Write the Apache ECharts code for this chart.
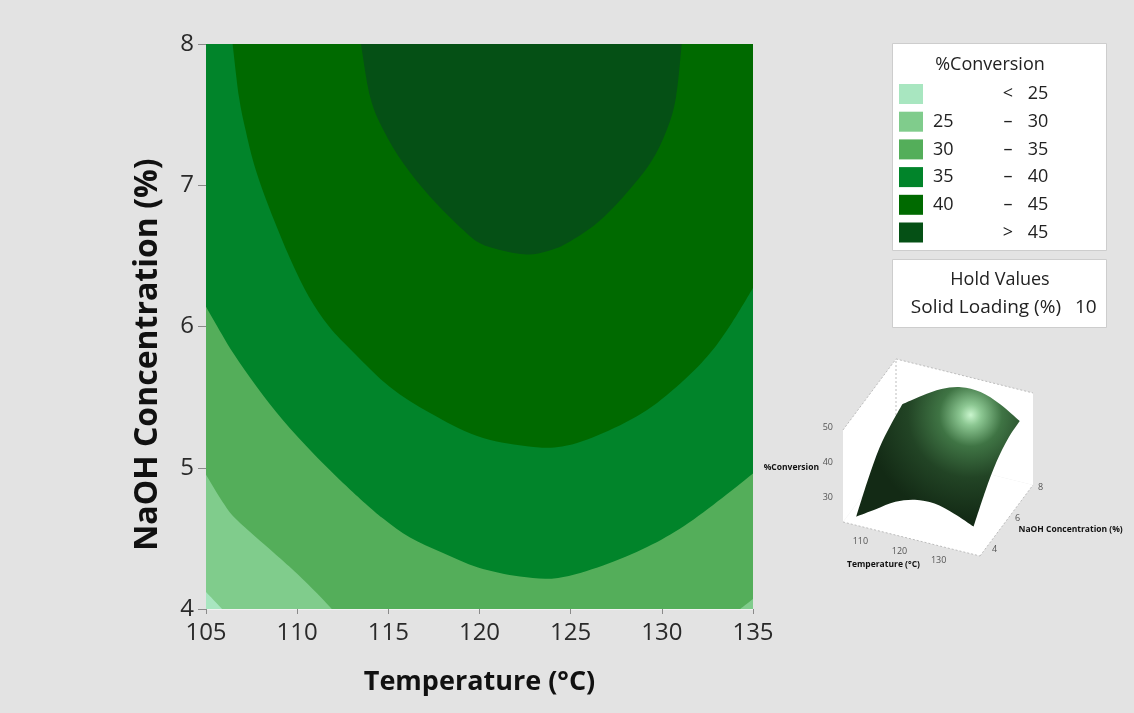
<!DOCTYPE html>
<html>
<head>
<meta charset="utf-8">
<script src="https://cdn.jsdelivr.net/npm/echarts@6/dist/echarts.min.js"></script>
<style>
  html, body { margin: 0; padding: 0; background: #e3e3e3; }
  #chart { width: 1134px; height: 713px; }
</style>
</head>
<body>
<div id="chart"></div>
<script>
// ---- %Conversion bands ----
const bandNames = ['< 25', '25 – 30', '30 – 35', '35 – 40', '40 – 45', '> 45'];
const bandColors = ['#a8e6c0', '#80cc8c', '#54ae5a', '#01842a', '#006a00', '#055015'];

// ---- contour lines, as [Temperature (°C), NaOH Concentration (%)] ----
const contour25 = [[105, 4.12], [105.88, 4.0]];
const contour30Left = [[105, 4.95], [105.95, 4.75], [106.7, 4.63], [108.7, 4.40], [110.0, 4.25], [111.1, 4.11], [111.9, 4.0]];
const contour30Right = [[134.3, 4.0], [135, 4.07]];
const contour35 = [[105, 6.14], [105.4, 6.05], [106.5, 5.81], [107.8, 5.57], [109.2, 5.34], [110.9, 5.10], [112.7, 4.87],
  [113.89, 4.729], [114.82, 4.63], [116.19, 4.506], [118.0, 4.396], [119.92, 4.294], [122.22, 4.23], [124.31, 4.22],
  [126.78, 4.308], [129.19, 4.439], [131.22, 4.588], [133.31, 4.786], [135, 4.959]];
const contour40 = [[106.46, 8], [106.81, 7.625], [107.17, 7.391], [107.63, 7.15], [108.24, 6.917], [108.95, 6.683],
  [109.72, 6.45], [110.65, 6.209], [111.75, 6.0], [113.12, 5.813], [115.09, 5.572], [117.29, 5.388], [119.87, 5.225],
  [122.5, 5.154], [124.53, 5.15], [126.78, 5.246], [129.19, 5.409], [131.22, 5.621], [132.65, 5.812], [133.8, 6.018], [135, 6.273]];
const contour45 = [[113.5, 8], [114.0, 7.627], [114.73, 7.391], [115.82, 7.155], [117.29, 6.919], [119.11, 6.683],
  [120.03, 6.589], [121.13, 6.542], [122.61, 6.51], [123.76, 6.535], [124.79, 6.589], [126.43, 6.731], [127.89, 6.919],
  [129.36, 7.155], [130.27, 7.391], [130.78, 7.627], [131.09, 8]];

// ---- axes ----
const tempTicks = [105, 110, 115, 120, 125, 130, 135];
const naohTicks = [4, 5, 6, 7, 8];

// ---- hold value ----
const holdName = 'Solid Loading (%)';
const holdValue = 10;

// ---- surface-plot inset: %Conversion on a Temperature x NaOH grid ----
const insetTemps = [105, 110, 115, 120, 125, 130, 135];
const insetNaOH = [4, 5, 6, 7, 8];
const insetConversion = [
  [24.0, 27.5, 31.0, 33.0, 33.3, 31.8, 29.5],   // NaOH 4
  [30.0, 33.2, 36.3, 38.4, 38.4, 36.5, 35.1],   // NaOH 5
  [34.7, 38.5, 41.5, 43.0, 43.0, 41.5, 39.3],   // NaOH 6
  [37.0, 41.0, 44.0, 46.0, 46.0, 44.0, 41.5],   // NaOH 7
  [38.5, 42.3, 45.6, 47.5, 47.5, 45.4, 42.0]    // NaOH 8
];
const insetTempTicks = [110, 120, 130];
const insetNaOHTicks = [4, 6, 8];
const insetConvTicks = [30, 40, 50];

// Filled regions: each band paints everything at or above its lower level
const regions = [
  [{ line: [[105, 4], [135, 4], [135, 8], [105, 8]] }],
  [{ curve: contour25 }, { line: [[135, 4], [135, 8], [105, 8]] }],
  [{ line: [[105, 8]] }, { curve: contour30Left }, { curve: contour30Right }, { line: [[135, 8]] }],
  [{ line: [[105, 8]] }, { curve: contour35 }, { line: [[135, 8]] }],
  [{ curve: contour40 }, { line: [[135, 8]] }],
  [{ curve: contour45 }]
];

// Smooth cubic segments through pixel points (Catmull-Rom form)
function bezierThrough(pts) {
  let d = '';
  for (let i = 0; i < pts.length - 1; i++) {
    const p0 = pts[Math.max(i - 1, 0)], p1 = pts[i], p2 = pts[i + 1], p3 = pts[Math.min(i + 2, pts.length - 1)];
    const c1 = [p1[0] + (p2[0] - p0[0]) / 6, p1[1] + (p2[1] - p0[1]) / 6];
    const c2 = [p2[0] - (p3[0] - p1[0]) / 6, p2[1] - (p3[1] - p1[1]) / 6];
    d += ` C${c1[0]} ${c1[1]} ${c2[0]} ${c2[1]} ${p2[0]} ${p2[1]}`;
  }
  return d;
}

function piecesPath(pieces, toPx) {
  let d = '';
  pieces.forEach(p => {
    const pts = (p.curve || p.line).map(toPx);
    pts.forEach((q, i) => {
      if (d === '') d = `M${q[0]} ${q[1]}`;
      else if (p.line || i === 0) d += ` L${q[0]} ${q[1]}`;
    });
    if (p.curve) d += bezierThrough(pts);
  });
  return d + ' Z';
}

const FONT = '"Open Sans", "Noto Sans", sans-serif';

const bandSeries = bandNames.map((name, i) => ({
  type: 'custom',
  name: name,
  coordinateSystem: 'cartesian2d',
  clip: true,
  silent: true,
  z: 2 + i,
  itemStyle: { color: bandColors[i] },
  encode: { x: 0, y: 1 },
  data: regions[i].flatMap(p => p.curve || p.line),
  renderItem: (params, api) => {
    if (params.dataIndex !== 0) return null;
    return {
      type: 'path',
      shape: { pathData: piecesPath(regions[i], p => api.coord(p)) },
      style: { fill: bandColors[i], stroke: null }
    };
  }
}));

// ---- inset: oblique projection of the response surface ----
const box = { t: [102.5, 137.5], n: [3.7, 8.3], z: [23.1, 49.4] };
const boxOrigin = [843, 522];
const perT = [137 / 35, 34 / 35];
const perN = [53 / 4.6, -71 / 4.6];
const perZ = 3.5;
function proj(t, n, z) {
  const dt = t - box.t[0], dn = n - box.n[0], dz = z - box.z[0];
  return [boxOrigin[0] + dt * perT[0] + dn * perN[0], boxOrigin[1] + dt * perT[1] + dn * perN[1] - dz * perZ];
}

function insetRender(params, api) {
  if (params.dataIndex !== 0) return null;
  const [t0, t1] = box.t, [n0, n1] = box.n, [z0, z1] = box.z;
  const children = [];
  const wall = pts => ({ type: 'polygon', shape: { points: pts }, style: { fill: '#ffffff', stroke: null } });
  children.push(wall([proj(t0, n0, z0), proj(t0, n1, z0), proj(t0, n1, z1), proj(t0, n0, z1)]));
  children.push(wall([proj(t0, n1, z0), proj(t1, n1, z0), proj(t1, n1, z1), proj(t0, n1, z1)]));
  children.push(wall([proj(t0, n0, z0), proj(t1, n0, z0), proj(t1, n1, z0), proj(t0, n1, z0)]));
  // dotted box edges
  const edges = [
    [proj(t0, n0, z1), proj(t0, n1, z1)], [proj(t0, n1, z1), proj(t1, n1, z1)],
    [proj(t0, n0, z0), proj(t1, n0, z0)], [proj(t1, n0, z0), proj(t1, n1, z0)],
    [proj(t0, n1, z0), proj(t0, n1, z1)]
  ];
  edges.forEach(e => children.push({
    type: 'line', shape: { x1: e[0][0], y1: e[0][1], x2: e[1][0], y2: e[1][1] },
    style: { stroke: '#bdbdbd', lineWidth: 1, lineDash: [2, 2] }
  }));
  // surface outline: front edge, right edge, back edge, left edge
  const last = insetTemps.length - 1, lastN = insetNaOH.length - 1;
  const front = insetTemps.map((t, j) => [t, insetNaOH[0], insetConversion[0][j]]);
  const right = insetNaOH.map((n, k) => [insetTemps[last], n, insetConversion[k][last]]);
  const back = insetTemps.map((t, j) => [t, insetNaOH[lastN], insetConversion[lastN][j]]).reverse();
  const left = insetNaOH.map((n, k) => [insetTemps[0], n, insetConversion[k][0]]).reverse();
  const toPx = p => proj(p[0], p[1], p[2]);
  const d = piecesPath([{ curve: front }, { curve: right }, { curve: back }, { curve: left }], toPx);
  children.push({
    type: 'path',
    shape: { pathData: d },
    style: {
      fill: new echarts.graphic.RadialGradient(0.7, 0.2, 0.75, [
        { offset: 0, color: '#c9f5cd' },
        { offset: 0.1, color: '#8cc792' },
        { offset: 0.3, color: '#3f7444' },
        { offset: 0.6, color: '#224425' },
        { offset: 1, color: '#132a15' }
      ]),
      stroke: null
    }
  });
  // tick labels
  const small = '9px ' + FONT;
  insetConvTicks.forEach(v => {
    const p = proj(t0, n0, v);
    children.push({ type: 'text', style: { text: String(v), x: p[0] - 10, y: p[1], align: 'right', verticalAlign: 'middle', font: small, fill: '#555' } });
  });
  insetTempTicks.forEach(v => {
    const p = proj(v, n0, z0);
    children.push({ type: 'text', style: { text: String(v), x: p[0] - 12, y: p[1] + 12, align: 'center', verticalAlign: 'middle', font: small, fill: '#555' } });
  });
  insetNaOHTicks.forEach(v => {
    const p = proj(t1, v, z0);
    children.push({ type: 'text', style: { text: String(v), x: p[0] + 11, y: p[1] - 2, align: 'center', verticalAlign: 'middle', font: small, fill: '#555' } });
  });
  const bold = 'bold 8.5px ' + FONT;
  const zl = proj(t0, n0, 40);
  children.push({ type: 'text', style: { text: '%Conversion', x: zl[0] - 24, y: zl[1] + 5, align: 'right', verticalAlign: 'middle', font: bold, fill: '#111' } });
  const tl = proj((t0 + t1) / 2, n0, z0);
  children.push({ type: 'text', style: { text: 'Temperature (°C)', x: tl[0] - 28, y: tl[1] + 26, align: 'center', verticalAlign: 'middle', font: bold, fill: '#111' } });
  const nl = proj(t1, (n0 + n1) / 2, z0);
  children.push({ type: 'text', style: { text: 'NaOH Concentration (%)', x: nl[0] + 12, y: nl[1] + 9, align: 'left', verticalAlign: 'middle', font: bold, fill: '#111' } });
  return { type: 'group', children: children };
}

const legendParts = {
  '< 25': ['', '<', '25'], '25 – 30': ['25', '–', '30'], '30 – 35': ['30', '–', '35'],
  '35 – 40': ['35', '–', '40'], '40 – 45': ['40', '–', '45'], '> 45': ['', '>', '45']
};

const LEG = 18;
const option = {
  backgroundColor: '#e3e3e3',
  animation: false,
  textStyle: { fontFamily: FONT },
  grid: { left: 206, top: 44, width: 547, height: 565 },
  xAxis: {
    type: 'value', min: 105, max: 135, interval: 5,
    name: 'Temperature (°C)', nameLocation: 'middle', nameGap: 60,
    nameTextStyle: { fontFamily: FONT, fontWeight: 'bold', fontSize: 27, color: '#111' },
    axisLine: { show: true, lineStyle: { color: 'rgba(255,255,255,0.55)', width: 1 } },
    axisTick: { show: true, length: 5, lineStyle: { color: '#8a8a8a' } },
    axisLabel: { fontSize: 24, color: '#2a2a2a', margin: 12, formatter: v => tempTicks.includes(v) ? String(v) : '' },
    splitLine: { show: false }
  },
  yAxis: {
    type: 'value', min: 4, max: 8, interval: 1,
    name: 'NaOH Concentration (%)', nameLocation: 'middle', nameGap: 42,
    nameTextStyle: { fontFamily: FONT, fontWeight: 'bold', fontSize: 32, color: '#111', padding: [0, 56, 0, 0] },
    axisLine: { show: true, lineStyle: { color: 'rgba(255,255,255,0.55)', width: 1 } },
    axisTick: { show: true, length: 8, lineStyle: { color: '#8a8a8a' } },
    axisLabel: { fontSize: 24, color: '#2a2a2a', margin: 12, formatter: v => naohTicks.includes(v) ? String(v) : '' },
    splitLine: { show: false }
  },
  legend: {
    orient: 'vertical', left: 894, top: 79,
    itemWidth: 24, itemHeight: 20, itemGap: 7.7, icon: 'rect',
    selectedMode: false,
    data: bandNames,
    formatter: name => {
      const p = legendParts[name];
      return `{l|${p[0] || ' '}}{m|${p[1]}}{r|${p[2]}}`;
    },
    textStyle: {
      fontFamily: FONT, fontSize: LEG, color: '#222', lineHeight: 20,
      rich: {
        l: { width: 67, align: 'left', padding: [0, 0, 0, 5], fontSize: LEG, fontFamily: FONT, color: '#222' },
        m: { width: 16, align: 'center', fontSize: LEG, fontFamily: FONT, color: '#222' },
        r: { width: 30, align: 'left', padding: [0, 0, 0, 7], fontSize: LEG, fontFamily: FONT, color: '#222' }
      }
    }
  },
  graphic: [
    { type: 'rect', left: 892, top: 43, z: -1, shape: { width: 214, height: 207 }, style: { fill: '#ffffff', stroke: '#cdcdcd', lineWidth: 1 } },
    { type: 'text', x: 990, y: 65, style: { text: '%Conversion', font: LEG + 'px ' + FONT, fill: '#222', align: 'center', verticalAlign: 'middle' } },
    { type: 'rect', left: 892, top: 259, z: -1, shape: { width: 214, height: 68 }, style: { fill: '#ffffff', stroke: '#cdcdcd', lineWidth: 1 } },
    { type: 'text', x: 1000, y: 280, style: { text: 'Hold Values', font: LEG + 'px ' + FONT, fill: '#222', align: 'center', verticalAlign: 'middle' } },
    { type: 'text', x: 1061, y: 308, style: { text: holdName, font: '19px ' + FONT, fill: '#222', align: 'right', verticalAlign: 'middle' } },
    { type: 'text', x: 1075, y: 308, style: { text: String(holdValue), font: '19px ' + FONT, fill: '#222', align: 'left', verticalAlign: 'middle' } }
  ],
  series: bandSeries.concat([{
    type: 'custom',
    name: 'surface',
    coordinateSystem: 'none',
    silent: true,
    data: [0],
    renderItem: insetRender
  }])
};

const chart = echarts.init(document.getElementById('chart'));
chart.setOption(option);
</script>
</body>
</html>
